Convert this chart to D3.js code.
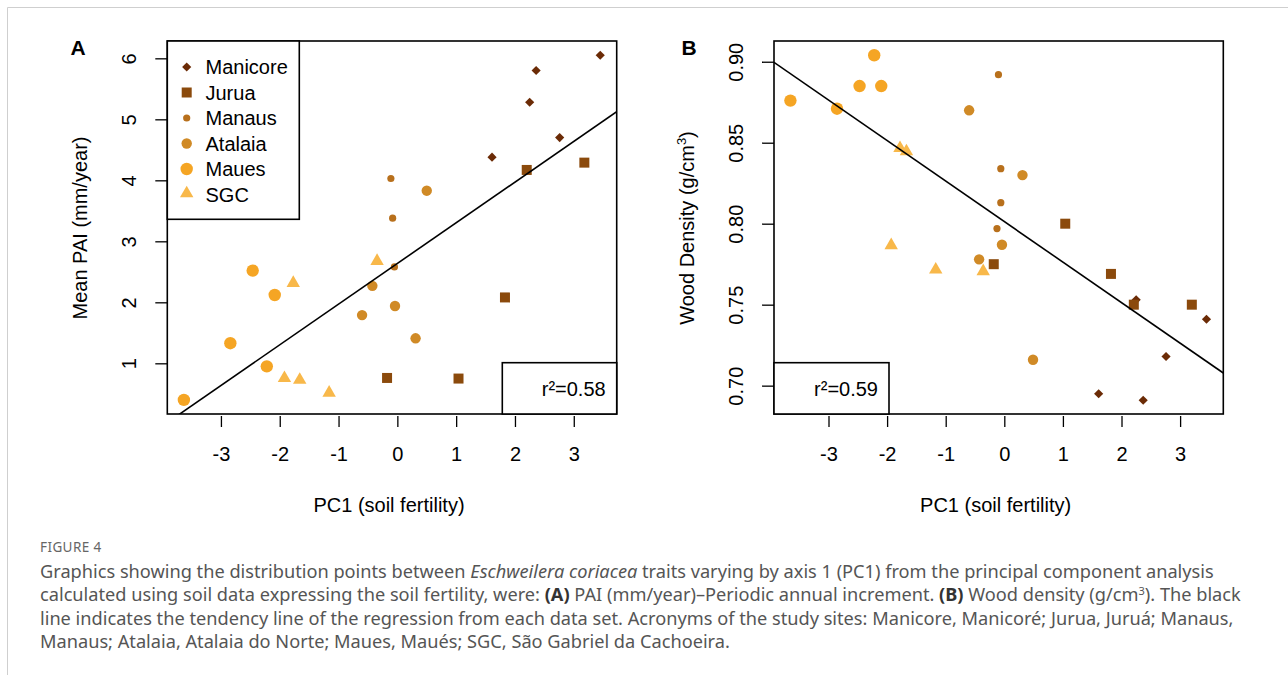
<!DOCTYPE html>
<html>
<head>
<meta charset="utf-8">
<script src="https://cdn.jsdelivr.net/npm/d3@7"></script>
<style>
  body { margin: 0; background: #fff; }
  svg text { font-family: "Liberation Sans", Arial, sans-serif; }
  .cap text { font-family: "Noto Sans", "Open Sans", sans-serif; }
</style>
</head>
<body>
<div id="container"></div>
<script>
// sites in legend order
const sites = ["Manicore", "Jurua", "Manaus", "Atalaia", "Maues", "SGC"];
const siteColors = ["#6b2b06", "#8b4a0c", "#b8701c", "#d08a26", "#f5a524", "#f8b84a"];
const siteShapes = ["diamond", "square", "dot", "circle", "bigcircle", "triangle"];

// panel A : PC1 vs mean PAI
const pc1A = [
  [3.45, 2.36, 2.25, 2.76, 1.61],
  [3.18, 2.20, 1.83, -0.175, 1.04],
  [-0.11, -0.08, -0.05],
  [0.50, -0.425, -0.04, -0.60, 0.31],
  [-2.46, -2.085, -2.84, -2.22, -3.63],
  [-0.345, -1.77, -1.92, -1.66, -1.16]
];
const paiA = [
  [6.05, 5.80, 5.28, 4.70, 4.38],
  [4.29, 4.17, 2.08, 0.76, 0.75],
  [4.03, 3.38, 2.58],
  [3.83, 2.27, 1.94, 1.79, 1.41],
  [2.52, 2.12, 1.33, 0.95, 0.40],
  [2.66, 2.30, 0.74, 0.71, 0.50]
];
// panel B : PC1 vs wood density
const pc1B = [
  [2.25, 3.45, 2.76, 1.61, 2.37],
  [1.04, 1.82, 2.21, 3.20, -0.18],
  [-0.10, -0.06, -0.06, -0.125],
  [-0.60, 0.31, -0.04, -0.43, 0.49],
  [-2.22, -2.47, -2.10, -3.65, -2.855],
  [-1.78, -1.67, -1.93, -1.17, -0.36]
];
const densB = [
  [0.753, 0.741, 0.718, 0.695, 0.691],
  [0.800, 0.769, 0.750, 0.750, 0.775],
  [0.892, 0.834, 0.813, 0.797],
  [0.870, 0.830, 0.787, 0.778, 0.716],
  [0.904, 0.885, 0.885, 0.876, 0.871],
  [0.846, 0.844, 0.786, 0.771, 0.770]
];

// regression lines [intercept, slope]
const fitA = [2.637, 0.667];
const fitB = [0.8013, -0.02502];

const xTicks = [-3, -2, -1, 0, 1, 2, 3];
const yTicksA = [1, 2, 3, 4, 5, 6];
const yTicksB = [0.70, 0.75, 0.80, 0.85, 0.90];

const width = 1288, height = 675;
const svg = d3.select('#container').append('svg')
  .attr('width', width).attr('height', height);

// figure frame lines
svg.append('line').attr('x1', 7.5).attr('x2', width).attr('y1', 7.5).attr('y2', 7.5)
  .attr('stroke', '#cfcfcf').attr('stroke-width', 1);
svg.append('line').attr('x1', 7.5).attr('x2', 7.5).attr('y1', 7.5).attr('y2', height)
  .attr('stroke', '#cfcfcf').attr('stroke-width', 1);

function shapePath(shape) {
  const sym = d3.symbol();
  if (shape === 'diamond') return sym.type(d3.symbolSquare).size(42)();
  if (shape === 'square') return sym.type(d3.symbolSquare).size(100)();
  if (shape === 'triangle') return sym.type(d3.symbolTriangle).size(78)();
  if (shape === 'dot') return sym.type(d3.symbolCircle).size(Math.PI * 3.6 * 3.6)();
  if (shape === 'circle') return sym.type(d3.symbolCircle).size(Math.PI * 5.2 * 5.2)();
  return sym.type(d3.symbolCircle).size(Math.PI * 6.2 * 6.2)();
}

function drawMark(g, shape, color, x, y) {
  g.append('path')
    .attr('d', shapePath(shape))
    .attr('transform', `translate(${x},${y})` + (shape === 'diamond' ? ' rotate(45)' : '') + (shape === 'triangle' ? ' translate(0,-1)' : ''))
    .attr('fill', color);
}

function panel(opt) {
  const g = svg.append('g');
  const x = d3.scaleLinear().domain(opt.xDomain).range([opt.left, opt.right]);
  const y = d3.scaleLinear().domain(opt.yDomain).range([opt.bottom, opt.top]);

  // clip for regression line
  const clipId = 'clip' + opt.letter;
  svg.append('clipPath').attr('id', clipId).append('rect')
    .attr('x', opt.left).attr('y', opt.top)
    .attr('width', opt.right - opt.left).attr('height', opt.bottom - opt.top);

  // points
  opt.xs.forEach((arr, si) => {
    arr.forEach((v, i) => drawMark(g, siteShapes[si], siteColors[si], x(v), y(opt.ys[si][i])));
  });

  // regression line
  const x0 = opt.xDomain[0], x1 = opt.xDomain[1];
  g.append('line')
    .attr('clip-path', `url(#${clipId})`)
    .attr('x1', x(x0)).attr('y1', y(opt.fit[0] + opt.fit[1] * x0))
    .attr('x2', x(x1)).attr('y2', y(opt.fit[0] + opt.fit[1] * x1))
    .attr('stroke', '#000').attr('stroke-width', 1.6);

  // axes
  const xAxis = d3.axisBottom(x).tickValues(xTicks).tickSize(11).tickPadding(20)
    .tickFormat(d => d);
  const gx = g.append('g').attr('transform', `translate(0,${opt.bottom + 2})`).call(xAxis);
  gx.select('.domain').remove();
  gx.selectAll('line').attr('stroke', '#000').attr('stroke-width', 1.3);
  gx.selectAll('text').attr('font-size', 20).attr('fill', '#000')
    .attr('font-family', '"Liberation Sans", Arial, sans-serif');

  const yAxis = d3.axisLeft(y).tickValues(opt.yTicks).tickSize(12).tickFormat(opt.yFormat);
  const gy = g.append('g').attr('transform', `translate(${opt.left},0)`).call(yAxis);
  gy.select('.domain').remove();
  gy.selectAll('line').attr('stroke', '#000').attr('stroke-width', 1.3);
  gy.selectAll('text')
    .attr('font-size', 20).attr('fill', '#000')
    .attr('font-family', '"Liberation Sans", Arial, sans-serif')
    .attr('x', null).attr('dy', null)
    .attr('text-anchor', 'middle')
    .attr('transform', `translate(${opt.yLabelX - opt.left},0) rotate(-90)`);

  // plot box
  g.append('rect')
    .attr('x', opt.left).attr('y', opt.top)
    .attr('width', opt.right - opt.left).attr('height', opt.bottom - opt.top)
    .attr('fill', 'none').attr('stroke', '#000').attr('stroke-width', 1.6);

  // r² box
  g.append('rect')
    .attr('x', opt.rBox[0]).attr('y', 362.7)
    .attr('width', opt.rBox[1] - opt.rBox[0]).attr('height', opt.bottom - 362.7)
    .attr('fill', '#fff').attr('stroke', '#000').attr('stroke-width', 1.6);
  g.append('text').attr('x', opt.rBox[1] - 11).attr('y', 396)
    .attr('text-anchor', 'end').attr('font-size', 20).text(opt.r2);

  // titles
  g.append('text').attr('x', (opt.left + opt.right) / 2 - 3).attr('y', 512)
    .attr('text-anchor', 'middle').attr('font-size', 20).text('PC1 (soil fertility)');
  const yt = g.append('text').attr('text-anchor', 'middle').attr('font-size', 20)
    .attr('transform', `translate(${opt.yTitleX},228) rotate(-90)`);
  if (opt.letter === 'A') {
    yt.text('Mean PAI (mm/year)');
  } else {
    yt.append('tspan').text('Wood Density (g/cm');
    yt.append('tspan').attr('dy', -8).attr('font-size', 13).text('3');
    yt.append('tspan').attr('dy', 8).text(')');
  }
  g.append('text').attr('x', opt.letterX).attr('y', 55)
    .attr('text-anchor', 'middle').attr('font-size', 21).attr('font-weight', 'bold')
    .text(opt.letter);
  return g;
}

const gA = panel({
  letter: 'A', letterX: 78,
  left: 167.3, right: 616.7, top: 41, bottom: 414,
  xDomain: [-3.912, 3.73], yDomain: [0.169, 6.284],
  xs: pc1A, ys: paiA, fit: fitA, yTicks: yTicksA, yFormat: d => d,
  yLabelX: 136, yTitleX: 87, rBox: [502.3, 616.7], r2: 'r²=0.58'
});

panel({
  letter: 'B', letterX: 689,
  left: 774, right: 1223.3, top: 41, bottom: 414,
  xDomain: [-3.93, 3.737], yDomain: [0.6825, 0.9128],
  xs: pc1B, ys: densB, fit: fitB, yTicks: yTicksB, yFormat: d3.format('.2f'),
  yLabelX: 743, yTitleX: 694, rBox: [774, 889], r2: 'r²=0.59'
});

// legend (panel A)
const leg = svg.append('g');
leg.append('rect').attr('x', 167.3).attr('y', 41).attr('width', 132).attr('height', 178.3)
  .attr('fill', '#fff').attr('stroke', '#000').attr('stroke-width', 1.6);
sites.forEach((s, i) => {
  const ly = 67 + i * 25.5;
  drawMark(leg, siteShapes[i], siteColors[i], 186.7, ly);
  leg.append('text').attr('x', 205.5).attr('y', ly + 7).attr('font-size', 20).text(s);
});

// caption
const cap = svg.append('g').attr('class', 'cap').attr('fill', '#555');
cap.append('text').attr('x', 40).attr('y', 552).attr('font-size', 13.5)
  .attr('letter-spacing', 0.4).attr('fill', '#666').text('FIGURE 4');
const capLines = [
  [["Graphics showing the distribution points between ", ""], ["Eschweilera coriacea", "i"], [" traits varying by axis 1 (PC1) from the principal component analysis", ""]],
  [["calculated using soil data expressing the soil fertility, were: ", ""], ["(A)", "b"], [" PAI (mm/year)\u2013Periodic annual increment. ", ""], ["(B)", "b"], [" Wood density (g/cm", ""], ["3", "sup"], ["). The black", ""]],
  [["line indicates the tendency line of the regression from each data set. Acronyms of the study sites: Manicore, Manicor\u00e9; Jurua, Juru\u00e1; Manaus,", ""]],
  [["Manaus; Atalaia, Atalaia do Norte; Maues, Mau\u00e9s; SGC, S\u00e3o Gabriel da Cachoeira.", ""]]
];
capLines.forEach((parts, li) => {
  const t = cap.append('text').attr('x', 40).attr('y', 578 + li * 23.3).attr('font-size', 18.2);
  parts.forEach(([txt, st]) => {
    const sp = t.append('tspan').text(txt);
    if (st === 'i') sp.attr('font-style', 'italic');
    if (st === 'b') sp.attr('font-weight', 'bold').attr('fill', '#333');
    if (st === 'sup') { sp.attr('dy', -6).attr('font-size', 11); }
    if (txt.startsWith(').')) sp.attr('dy', 6);
  });
});
</script>
</body>
</html>
